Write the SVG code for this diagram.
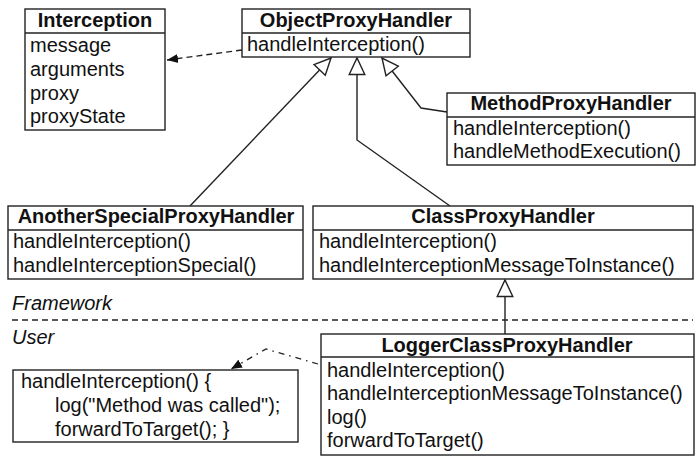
<svg xmlns="http://www.w3.org/2000/svg" width="699" height="470" viewBox="0 0 699 470">
<style>
text{font-family:"Liberation Sans",Arial,Helvetica,sans-serif;font-size:20px;fill:#111}
.h{font-weight:bold;text-anchor:middle}
.i{font-style:italic}
.box{fill:#fff;stroke:#222;stroke-width:1.4}
.div{stroke:#222;stroke-width:1.4}
.ln{fill:none;stroke:#222;stroke-width:1.4}
.dash{fill:none;stroke:#222;stroke-width:1.4;stroke-dasharray:6 4}
.dd{fill:none;stroke:#222;stroke-width:1.3;stroke-dasharray:6 5 1.5 5}
</style>
<defs>
<marker id="gen" markerUnits="userSpaceOnUse" markerWidth="20" markerHeight="20" viewBox="0 0 20 20" refX="18" refY="10" orient="auto">
<path d="M1.5,2.2 L18,10 L1.5,17.8 Z" fill="#fff" stroke="#222" stroke-width="1.4"/>
</marker>
<marker id="arr" markerUnits="userSpaceOnUse" markerWidth="12" markerHeight="10" viewBox="0 0 12 10" refX="11" refY="5" orient="auto">
<path d="M0,0.5 L11,5 L0,9.5 Z" fill="#111"/>
</marker>
</defs>

<g id="connectors">
<path class="dash" d="M242,50 L167,60" marker-end="url(#arr)"/>
<path class="ln" d="M190,206 L331,58" marker-end="url(#gen)"/>
<path class="ln" d="M450,206 L357,140 L357,58" marker-end="url(#gen)"/>
<path class="ln" d="M447,112 L421,108 L382,58" marker-end="url(#gen)"/>
<path class="ln" d="M505,334 L505,280" marker-end="url(#gen)"/>
<path class="dd" d="M318,364 L266,349 L231,369" marker-end="url(#arr)"/>
</g>

<g id="Interception">
<rect class="box" x="25" y="9" width="140" height="121"/>
<line class="div" x1="25" y1="33" x2="165" y2="33"/>
<text class="h" x="95" y="27">Interception</text>
<text x="30" y="52">message</text>
<text x="30" y="76">arguments</text>
<text x="30" y="100">proxy</text>
<text x="30" y="123">proxyState</text>
</g>

<g id="ObjectProxyHandler">
<rect class="box" x="242" y="9" width="228" height="48"/>
<line class="div" x1="242" y1="33" x2="470" y2="33"/>
<text class="h" x="356" y="27">ObjectProxyHandler</text>
<text x="247" y="51">handleInterception()</text>
</g>

<g id="MethodProxyHandler">
<rect class="box" x="447" y="93" width="248" height="72"/>
<line class="div" x1="447" y1="117" x2="695" y2="117"/>
<text class="h" x="571" y="110">MethodProxyHandler</text>
<text x="453" y="135">handleInterception()</text>
<text x="453" y="158">handleMethodExecution()</text>
</g>

<g id="AnotherSpecialProxyHandler">
<rect class="box" x="8" y="206" width="295" height="73"/>
<line class="div" x1="8" y1="230" x2="303" y2="230"/>
<text class="h" x="156" y="223">AnotherSpecialProxyHandler</text>
<text x="13" y="248">handleInterception()</text>
<text x="13" y="272">handleInterceptionSpecial()</text>
</g>

<g id="ClassProxyHandler">
<rect class="box" x="313" y="206" width="380" height="73"/>
<line class="div" x1="313" y1="230" x2="693" y2="230"/>
<text class="h" x="503" y="223">ClassProxyHandler</text>
<text x="319" y="248">handleInterception()</text>
<text x="319" y="272">handleInterceptionMessageToInstance()</text>
</g>

<g id="boundary">
<text class="i" x="12" y="310">Framework</text>
<line class="dash" x1="12" y1="320" x2="693" y2="320"/>
<text class="i" x="12" y="344">User</text>
</g>

<g id="LoggerClassProxyHandler">
<rect class="box" x="321" y="334" width="373" height="121"/>
<line class="div" x1="321" y1="357" x2="694" y2="357"/>
<text class="h" x="507" y="352">LoggerClassProxyHandler</text>
<text x="327" y="377">handleInterception()</text>
<text x="327" y="400">handleInterceptionMessageToInstance()</text>
<text x="327" y="424">log()</text>
<text x="327" y="447">forwardToTarget()</text>
</g>

<g id="CodeNote">
<rect class="box" x="13" y="370" width="285" height="72"/>
<text x="21" y="388">handleInterception() {</text>
<text x="55" y="412">log("Method was called");</text>
<text x="55" y="436">forwardToTarget(); }</text>
</g>
</svg>
